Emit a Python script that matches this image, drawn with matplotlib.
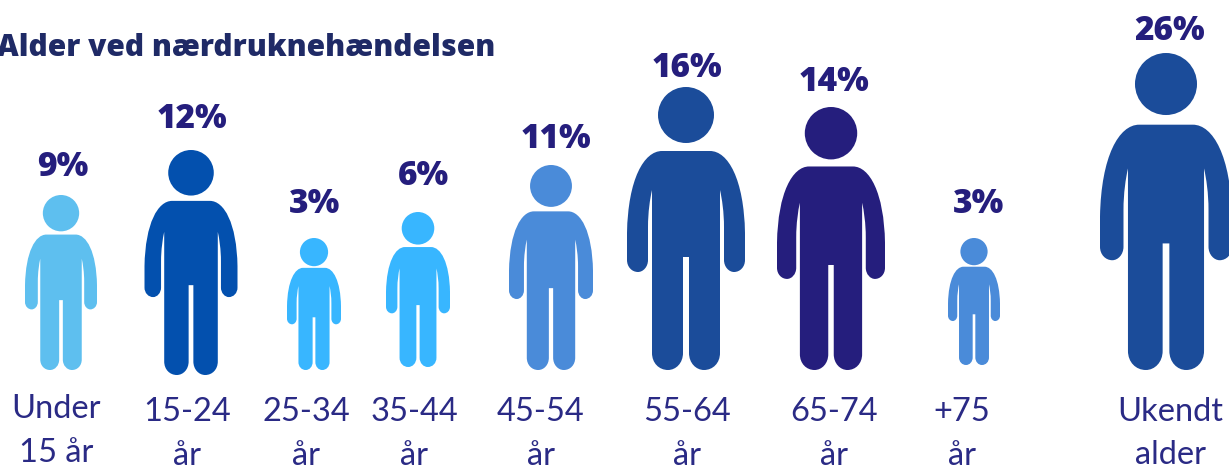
import matplotlib
matplotlib.use("Agg")
import matplotlib.pyplot as plt
from matplotlib.path import Path
from matplotlib.patches import PathPatch, Circle
from matplotlib.transforms import Affine2D

plt.rcParams['font.family'] = ['Lato', 'DejaVu Sans']

# data
kategorier = ["Under\n15 år", "15-24\når", "25-34\når", "35-44\når", "45-54\når",
              "55-64\når", "65-74\når", "+75\når", "Ukendt\nalder"]
procenter = [9, 12, 3, 6, 11, 16, 14, 3, 26]

# layout, in pixels of the 1229x465 picture
midte_x = [61, 191, 314, 418, 551, 686, 831, 974, 1166]
top_y = [195, 150, 238, 212, 165, 87, 107, 238, 53]
bund_y = [370, 375, 370, 367, 370, 370, 370, 365, 370]
bredde = [72, 93, 54, 64, 84, 118, 108, 52, 132]
farver = ["#5EBFEF", "#0350AE", "#38B6FF", "#38B6FF", "#4A8BD9",
          "#1B4C9A", "#251E7D", "#4A8BD9", "#1B4C9A"]
tekst_x = [63, 192, 314, 423, 556, 687, 834, 978, 1170]
tekst_y = [176, 128, 213, 185, 148, 77, 91, 213, 40]
label_x = [56, 187, 306, 414, 541, 687, 834, 962, 1170]
label_y1 = [418, 421, 421, 421, 421, 421, 421, 421, 421]
label_y2 = [462, 465, 465, 465, 465, 465, 465, 465, 464]

TEKST = "#2A2A85"
MOERK = "#251E7D"

# right half of the body, measured on the 55-64 figure (half width 59, height 283)
halv = [
    (Path.MOVETO, (0, 64)),
    (Path.LINETO, (24, 64)),
    (Path.CURVE4, (42, 64)), (Path.CURVE4, (58, 92)), (Path.CURVE4, (59, 146)),
    (Path.LINETO, (59, 173)),
    (Path.CURVE4, (59, 180)), (Path.CURVE4, (54, 185)), (Path.CURVE4, (48, 185)),
    (Path.CURVE4, (43, 185)), (Path.CURVE4, (38, 180)), (Path.CURVE4, (38, 173)),
    (Path.LINETO, (38, 140)),
    (Path.CURVE4, (38, 125)), (Path.CURVE4, (36, 112)), (Path.CURVE4, (34, 103)),
    (Path.LINETO, (34, 266)),
    (Path.CURVE4, (34, 276)), (Path.CURVE4, (27, 283)), (Path.CURVE4, (18, 283)),
    (Path.CURVE4, (10, 283)), (Path.CURVE4, (3, 276)), (Path.CURVE4, (3, 266)),
    (Path.LINETO, (3, 170)),
]


def krop_path():
    koder = [k for k, _ in halv]
    punkter = [p for _, p in halv]
    # mirror back to the left side, curves need reversed control points
    koder2 = []
    punkter2 = []
    for i in range(len(halv) - 1, 0, -1):
        koder2.append(koder[i])
        punkter2.append((-punkter[i - 1][0], punkter[i - 1][1]))
    punkter2.insert(0, (-punkter[-1][0], punkter[-1][1]))
    koder2.insert(0, Path.LINETO)
    return Path(punkter + punkter2, koder + koder2)


krop = krop_path()

fig = plt.figure(figsize=(12.29, 4.65), dpi=100)
ax = fig.add_axes([0, 0, 1, 1])
ax.set_xlim(0, 1229)
ax.set_ylim(465, 0)
ax.axis("off")

for i, p in enumerate(procenter):
    sx = bredde[i] / 118
    sy = (bund_y[i] - top_y[i]) / 283
    t = Affine2D().scale(sx, sy).translate(midte_x[i], top_y[i]) + ax.transData
    ax.add_patch(PathPatch(krop, facecolor=farver[i], edgecolor="none", transform=t))
    # head is round in the picture, so the radius follows the height only
    r = 28 * sy ** 0.9
    ax.add_patch(Circle((midte_x[i], top_y[i] + r), r, facecolor=farver[i], edgecolor="none"))

    ax.text(tekst_x[i], tekst_y[i], f"{p}%", ha="center", va="baseline", family="Open Sans",
            fontsize=24, fontweight="extra bold", color=MOERK)

    linjer = kategorier[i].split("\n")
    ax.text(label_x[i], label_y1[i], linjer[0], ha="center", va="baseline", fontsize=23.5, color=TEKST)
    ax.text(label_x[i], label_y2[i], linjer[1], ha="center", va="baseline", fontsize=23.5, color=TEKST)

ax.text(-3, 56, "Alder ved nærdruknehændelsen", ha="left", va="baseline", family="Open Sans",
        fontsize=21.5, fontweight="extra bold", color="#1F2A66")

fig.savefig("out.png", dpi=100)
